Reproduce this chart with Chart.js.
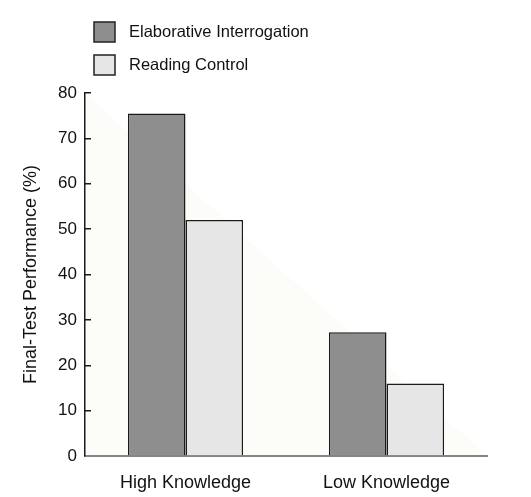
<!DOCTYPE html>
<html>
<head>
<meta charset="utf-8">
<script src="https://cdn.jsdelivr.net/npm/chart.js@4.4.1/dist/chart.umd.min.js"></script>
<style>
  html, body { margin: 0; padding: 0; background: #fff; }
  #wrap { width: 531px; height: 497px; }
</style>
</head>
<body>
<div id="wrap"><canvas id="chart"></canvas></div>
<script>
// Data
const categories = ['High Knowledge', 'Low Knowledge'];
const seriesNames = ['Elaborative Interrogation', 'Reading Control'];
const elaborativeValues = [75.5, 27.3];
const readingValues = [52.0, 16.0];
const yTicks = [0, 10, 20, 30, 40, 50, 60, 70, 80];

const FONT = "'Liberation Sans', Arial, sans-serif";
const fillColors = ['#8e8e8e', '#e6e6e6'];

// faint shaded triangle behind everything, as in the scanned figure
const backdrop = {
  id: 'backdrop',
  beforeDraw(chart) {
    const { ctx, chartArea: a } = chart;
    ctx.save();
    ctx.fillStyle = '#fcfcf9';
    ctx.beginPath();
    ctx.moveTo(a.left, a.top);
    ctx.lineTo(a.right, a.bottom);
    ctx.lineTo(a.left, a.bottom);
    ctx.closePath();
    ctx.fill();
    ctx.restore();
  }
};

// stacked legend in the top left corner
const stackedLegend = {
  id: 'stackedLegend',
  afterDraw(chart) {
    const { ctx, chartArea: a } = chart;
    ctx.save();
    ctx.font = '16.5px ' + FONT;
    ctx.textBaseline = 'middle';
    chart.data.datasets.forEach((ds, i) => {
      const x = a.left + 9;
      const y = 22 + i * 33;
      ctx.fillStyle = ds.backgroundColor;
      ctx.fillRect(x, y, 21, 20);
      ctx.strokeStyle = '#222';
      ctx.lineWidth = 1.5;
      ctx.strokeRect(x, y, 21, 20);
      ctx.fillStyle = '#111';
      ctx.fillText(ds.label, x + 35, y + 10.5);
    });
    ctx.restore();
  }
};

new Chart(document.getElementById('chart'), {
  type: 'bar',
  data: {
    labels: categories,
    datasets: [
      { label: seriesNames[0], data: elaborativeValues, backgroundColor: fillColors[0] },
      { label: seriesNames[1], data: readingValues, backgroundColor: fillColors[1] }
    ]
  },
  options: {
    responsive: true,
    maintainAspectRatio: false,
    animation: false,
    devicePixelRatio: 1,
    layout: { padding: { top: 93, right: 44, bottom: 0, left: 0 } },
    datasets: {
      bar: {
        borderColor: '#1a1a1a',
        borderWidth: 1.5,
        barPercentage: 1,
        categoryPercentage: 0.573
      }
    },
    plugins: {
      legend: { display: false },
      tooltip: { enabled: false }
    },
    scales: {
      x: {
        grid: { display: false },
        border: { display: true, color: '#858585', width: 2 },
        ticks: { color: '#111', font: { family: FONT, size: 18 }, padding: 8 },
        afterFit(scale) { scale.height = 41; }
      },
      y: {
        min: 0,
        max: 80,
        afterBuildTicks(scale) { scale.ticks = yTicks.map(v => ({ value: v })); },
        grid: {
          display: true,
          drawOnChartArea: false,
          drawTicks: true,
          tickLength: -6,
          color: '#1a1a1a',
          lineWidth: 1.5
        },
        border: { display: true, color: '#1a1a1a', width: 1.5 },
        ticks: { color: '#111', font: { family: FONT, size: 17 }, padding: 14 },
        title: {
          display: true,
          text: 'Final-Test Performance (%)',
          color: '#111',
          font: { family: FONT, size: 18 },
          padding: { top: 20, bottom: 0 }
        },
        afterFit(scale) { scale.width = 85; }
      }
    }
  },
  plugins: [backdrop, stackedLegend]
});
</script>
</body>
</html>
